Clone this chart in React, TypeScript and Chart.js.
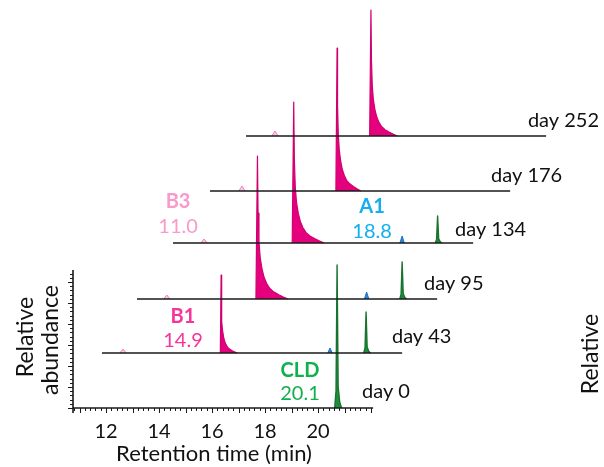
import { useEffect, useRef } from 'react';
import { Chart, registerables } from 'chart.js';

Chart.register(...registerables);

// ---------------- data ----------------
const DAYS = ['day 0', 'day 43', 'day 95', 'day 134', 'day 176', 'day 252'];

// retention times (min) on each run's own time axis, heights in relative abundance units
const B3_RT = [null, 11.55, 11.88, 11.93, 11.96, 11.85];
const B3_HEIGHT = [0, 4, 4, 4, 5, 5];
const B1_RT = [null, 15.25, 15.3, 15.31, 15.55, 15.47];
const B1_HEIGHT = [0, 78, 143, 141, 143, 126];
const B1_TAIL = [0, 0.6, 1.15, 1.15, 0.9, 1.0];
const A1_RT = [null, 19.36, 19.42, 19.4, null, null];
const A1_HEIGHT = [0, 5, 7, 7, 0, 0];
const CLD_RT = [20.72, 20.72, 20.76, 20.74, null, null];
const CLD_HEIGHT = [143, 41, 37, 27, 0, 0];

const RUN_START = 10.755;
const RUN_END = 22.08;
const X_TICKS = [12, 14, 16, 18, 20];

const COMPOUNDS = ['B3', 'B1', 'A1', 'CLD'];
const COMPOUND_RT_TEXT = ['11.0', '14.9', '18.8', '20.1'];

// peak profiles (relative offset -> relative level)
const TAIL_OFFSETS = [-0.05, 0, 0.02, 0.05, 0.09, 0.15, 0.22, 0.3, 0.4, 0.53, 0.7, 0.85, 1.0];
const TAIL_LEVELS = [0, 1, 0.6, 0.4, 0.29, 0.21, 0.15, 0.11, 0.075, 0.05, 0.03, 0.014, 0];
const NARROW_OFFSETS = [-0.09, -0.04, 0, 0.04, 0.1, 0.17];
const NARROW_LEVELS = [0, 0.12, 1, 0.15, 0.04, 0];
const BUMP_OFFSETS = [-0.12, 0, 0.12];
const BUMP_LEVELS = [0, 1, 0];

// ---------------- layout ----------------
const X_MIN = 8.0;
const X_MAX = 8.0 + 604 / 26.5;
const Y_MIN = -59;
const Y_MAX = 408;
const TRACE_SHIFT_X = [0, 1.094, 2.415, 3.774, 5.17, 6.528];
const TRACE_SHIFT_Y = [0, 55, 109, 165, 217, 272];
const DAY_LABEL_POS = [
  [21.66, 10],
  [22.79, 65],
  [24.0, 118],
  [25.17, 172],
  [26.53, 226],
  [27.92, 281],
];
const COMPOUND_LABEL_POS = [
  [14.72, 200, 175],
  [14.906, 85, 61],
  [22.04, 195, 170],
  [19.32, 31, 8],
];
const COMPOUND_COLORS = ['#f79bcb', '#f5359a', '#12aef0', '#10b04f'];
const Y_AXIS_TOP = 138;

const FONT = 'Lato, "Open Sans", sans-serif';

function peak(rt: number, h: number, offs: number[], levels: number[], scale: number, sx: number, base: number) {
  return offs.map((o, i) => ({ x: rt + o * scale + sx, y: base + h * levels[i] }));
}

const overlay = {
  id: 'overlay',
  afterDraw(chart: any) {
    const { ctx } = chart;
    const xs = chart.scales.x;
    const ys = chart.scales.y;
    const px = (v: number) => xs.getPixelForValue(v);
    const py = (v: number) => ys.getPixelForValue(v);
    ctx.save();
    ctx.strokeStyle = '#1a1a1a';
    // x axis
    const x0 = px(RUN_START);
    const x1 = px(RUN_END);
    const y0 = py(0);
    ctx.lineWidth = 1.6;
    ctx.beginPath();
    ctx.moveTo(x0, y0);
    ctx.lineTo(x1, y0);
    ctx.stroke();
    ctx.lineWidth = 1;
    for (let k = Math.ceil(RUN_START / 0.2); k <= Math.floor(RUN_END / 0.2); k++) {
      const t = k * 0.2;
      const major = k % 5 === 0;
      const xx = Math.round(px(t)) + 0.5;
      ctx.beginPath();
      ctx.moveTo(xx, y0);
      ctx.lineTo(xx, y0 + (major ? 5 : 3));
      ctx.stroke();
    }
    // y axis
    ctx.lineWidth = 1.6;
    ctx.beginPath();
    ctx.moveTo(x0, py(-5));
    ctx.lineTo(x0, py(Y_AXIS_TOP));
    ctx.stroke();
    ctx.lineWidth = 1;
    for (let k = 0; k * 4.2 <= Y_AXIS_TOP; k++) {
      const yy = Math.round(py(k * 4.2)) + 0.5;
      ctx.beginPath();
      ctx.moveTo(x0, yy);
      ctx.lineTo(x0 - (k % 5 === 0 ? 5 : 3), yy);
      ctx.stroke();
    }
    // tick labels
    ctx.fillStyle = '#111';
    ctx.font = `20px ${FONT}`;
    ctx.textAlign = 'center';
    ctx.textBaseline = 'alphabetic';
    X_TICKS.forEach((t) => ctx.fillText(String(t), px(t), 438));
    ctx.font = `22px ${FONT}`;
    ctx.fillText('Retention time (min)', px(X_MIN + 214 / 26.5), 461);
    // y titles
    const vtext = (s: string, x: number, y: number) => {
      ctx.save();
      ctx.translate(x, y);
      ctx.rotate(-Math.PI / 2);
      ctx.fillText(s, 0, 0);
      ctx.restore();
    };
    ctx.font = `23px ${FONT}`;
    vtext('Relative', 33, 337);
    vtext('abundance', 58, 340);
    vtext('Relative', 598, 354);
    // day labels
    ctx.font = `20px ${FONT}`;
    ctx.textAlign = 'left';
    DAYS.forEach((d, i) => ctx.fillText(d, px(DAY_LABEL_POS[i][0]), py(DAY_LABEL_POS[i][1])));
    // compound labels
    ctx.textAlign = 'center';
    COMPOUNDS.forEach((c, i) => {
      const [lx, ly1, ly2] = COMPOUND_LABEL_POS[i];
      ctx.fillStyle = COMPOUND_COLORS[i];
      ctx.font = `bold 20px ${FONT}`;
      ctx.fillText(c, px(lx), py(ly1));
      ctx.font = `20px ${FONT}`;
      ctx.fillText(COMPOUND_RT_TEXT[i], px(lx), py(ly2));
    });
    ctx.restore();
  },
};

export default function App() {
  const ref = useRef<HTMLCanvasElement>(null);
  useEffect(() => {
    document.body.style.margin = '0';
    const datasets: any[] = [];
    const common = { pointRadius: 0, tension: 0, borderJoinStyle: 'round' };
    DAYS.forEach((_, i) => {
      const sx = TRACE_SHIFT_X[i];
      const base = TRACE_SHIFT_Y[i];
      if (i > 0) {
        datasets.push({
          ...common,
          data: [
            { x: RUN_START + sx, y: base },
            { x: RUN_END + sx, y: base },
          ],
          borderColor: '#1a1a1a',
          borderWidth: 1.6,
          fill: false,
          order: 0,
        });
      }
      const b3 = B3_RT[i];
      if (b3 !== null) {
        datasets.push({
          ...common,
          data: peak(b3, B3_HEIGHT[i], BUMP_OFFSETS, BUMP_LEVELS, 1, sx, base),
          borderColor: '#f07fbb',
          backgroundColor: 'rgba(248,180,215,0.7)',
          borderWidth: 1,
          fill: { value: base },
          order: 1,
        });
      }
      const b1 = B1_RT[i];
      if (b1 !== null) {
        datasets.push({
          ...common,
          data: peak(b1, B1_HEIGHT[i], TAIL_OFFSETS, TAIL_LEVELS, B1_TAIL[i], sx, base),
          borderColor: '#d1006f',
          backgroundColor: '#e5007e',
          borderWidth: 1.2,
          fill: { value: base },
          order: 1,
        });
      }
      const a1 = A1_RT[i];
      if (a1 !== null) {
        datasets.push({
          ...common,
          data: peak(a1, A1_HEIGHT[i], BUMP_OFFSETS, BUMP_LEVELS, 0.7, sx, base),
          borderColor: '#1f6fc0',
          backgroundColor: '#2f86d6',
          borderWidth: 1,
          fill: { value: base },
          order: 1,
        });
      }
      const cld = CLD_RT[i];
      if (cld !== null) {
        datasets.push({
          ...common,
          data: peak(cld, CLD_HEIGHT[i], NARROW_OFFSETS, NARROW_LEVELS, 1, sx, base),
          borderColor: '#17742f',
          backgroundColor: '#1f8f3a',
          borderWidth: 1.4,
          fill: { value: base },
          order: 1,
        });
      }
    });
    const chart = new Chart(ref.current as HTMLCanvasElement, {
      type: 'line',
      data: { datasets },
      options: {
        animation: false,
        responsive: false,
        parsing: true,
        layout: { padding: 0 },
        plugins: { legend: { display: false }, tooltip: { enabled: false } },
        scales: {
          x: { type: 'linear', min: X_MIN, max: X_MAX, display: false },
          y: { type: 'linear', min: Y_MIN, max: Y_MAX, display: false },
        },
      },
      plugins: [overlay],
    } as any);
    return () => chart.destroy();
  }, []);
  return (
    <div style={{ position: 'absolute', left: 0, top: 0, width: 604, height: 467, background: '#fff' }}>
      <canvas ref={ref} width={604} height={467} style={{ display: 'block' }} />
    </div>
  );
}
